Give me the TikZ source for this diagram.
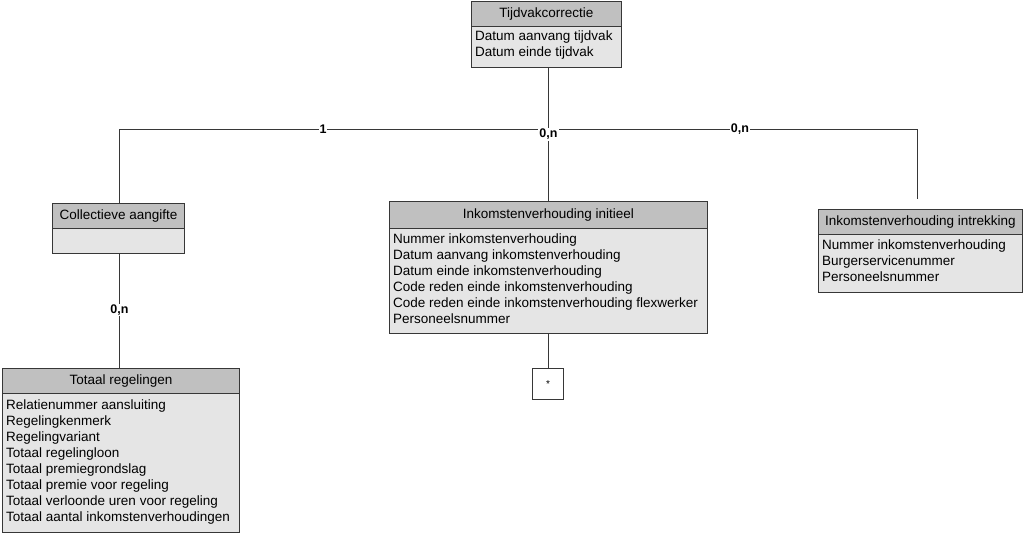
\documentclass[tikz,border=0pt]{standalone}
\usepackage{fontspec}
\setmainfont{Liberation Sans}
\definecolor{hdr}{RGB}{192,192,192}
\definecolor{bdy}{RGB}{229,229,229}
\definecolor{edge}{RGB}{55,55,55}
\begin{document}
\begin{tikzpicture}[x=1pt,y=-1pt,
  hdrbox/.style={draw=edge, fill=hdr, line width=0.9pt, anchor=north west, inner sep=0pt, font=\fontsize{13.5}{16}\selectfont},
  bodybox/.style={draw=edge, fill=bdy, line width=0.9pt, anchor=north west, inner sep=0pt},
  bodytext/.style={anchor=north west, inner xsep=4pt, inner ysep=0pt, align=left, font=\fontsize{13.5}{16}\selectfont},
  conn/.style={draw=edge, line width=1pt},
  card/.style={fill=white, inner sep=1pt, font=\bfseries\fontsize{12.5}{14}\selectfont}]
\useasboundingbox[fill=white] (0,0) rectangle (1024,533);

% Tijdvakcorrectie
\node[bodybox, minimum width=150pt, minimum height=41pt] (tvB) at (471,26) {};
\node[hdrbox, minimum width=150pt, minimum height=25pt] (tvH) at (471,1) {Tijdvakcorrectie};
\node[bodytext] (tvT) at ([yshift=-3.3pt]tvB.north west) {\strut Datum aanvang tijdvak\\Datum einde tijdvak\strut};

% Collectieve aangifte
\node[bodybox, minimum width=132pt, minimum height=25pt] (caB) at (52,228) {};
\node[hdrbox, minimum width=132pt, minimum height=25pt] (caH) at (52,203) {Collectieve aangifte};

% Totaal regelingen
\node[bodybox, minimum width=237pt, minimum height=139pt] (trB) at (2,393) {};
\node[hdrbox, minimum width=237pt, minimum height=25pt] (trH) at (2,368) {Totaal regelingen};
\node[bodytext] (trT) at ([yshift=-5pt]trB.north west) {\strut Relatienummer aansluiting\\Regelingkenmerk\\Regelingvariant\\Totaal regelingloon\\Totaal premiegrondslag\\Totaal premie voor regeling\\Totaal verloonde uren voor regeling\\Totaal aantal inkomstenverhoudingen\strut};

% Inkomstenverhouding initieel
\node[bodybox, minimum width=318pt, minimum height=105pt] (ivB) at (389,228) {};
\node[hdrbox, minimum width=318pt, minimum height=27pt] (ivH) at (389,201) {Inkomstenverhouding initieel};
\node[bodytext] (ivT) at ([yshift=-3.8pt]ivB.north west) {\strut Nummer inkomstenverhouding\\Datum aanvang inkomstenverhouding\\Datum einde inkomstenverhouding\\Code reden einde inkomstenverhouding\\Code reden einde inkomstenverhouding flexwerker\\Personeelsnummer\strut};

% Inkomstenverhouding intrekking
\node[bodybox, minimum width=204pt, minimum height=58pt] (irB) at (818,234) {};
\node[hdrbox, minimum width=204pt, minimum height=25pt] (irH) at (818,209) {Inkomstenverhouding intrekking};
\node[bodytext] (irT) at ([yshift=-4.5pt]irB.north west) {\strut Nummer inkomstenverhouding\\Burgerservicenummer\\Personeelsnummer\strut};

% star box
\node[draw=edge, fill=white, line width=0.9pt, anchor=north west, inner sep=0pt, minimum width=31pt, minimum height=31pt, font=\fontsize{10}{12}\selectfont] (star) at (532,368) {*};

% connectors
\coordinate (bus) at (548.5,129.5);
\coordinate (irEnd) at (917.5,199);
\draw[conn] ([xshift=0.5pt]ivH.north |- tvB.south) -- ([xshift=0.5pt]ivH.north);
\draw[conn] ([xshift=1.5pt]caH.north) |- (bus) -| (irEnd);
\draw[conn] ([xshift=1.5pt]caB.south) -- ([xshift=1.5pt]caB.south |- trH.north);
\draw[conn] ([xshift=0.5pt]ivB.south) -- ([xshift=0.5pt]ivB.south |- star.north);

% cardinalities
\node[card] (c1) at (323,129.5) {1};
\node[card] (c2) at (548.5,134.5) {0,n};
\node[card] (c3) at (740,129) {0,n};
\node[card] (c4) at (119.5,310) {0,n};
\end{tikzpicture}
\end{document}
